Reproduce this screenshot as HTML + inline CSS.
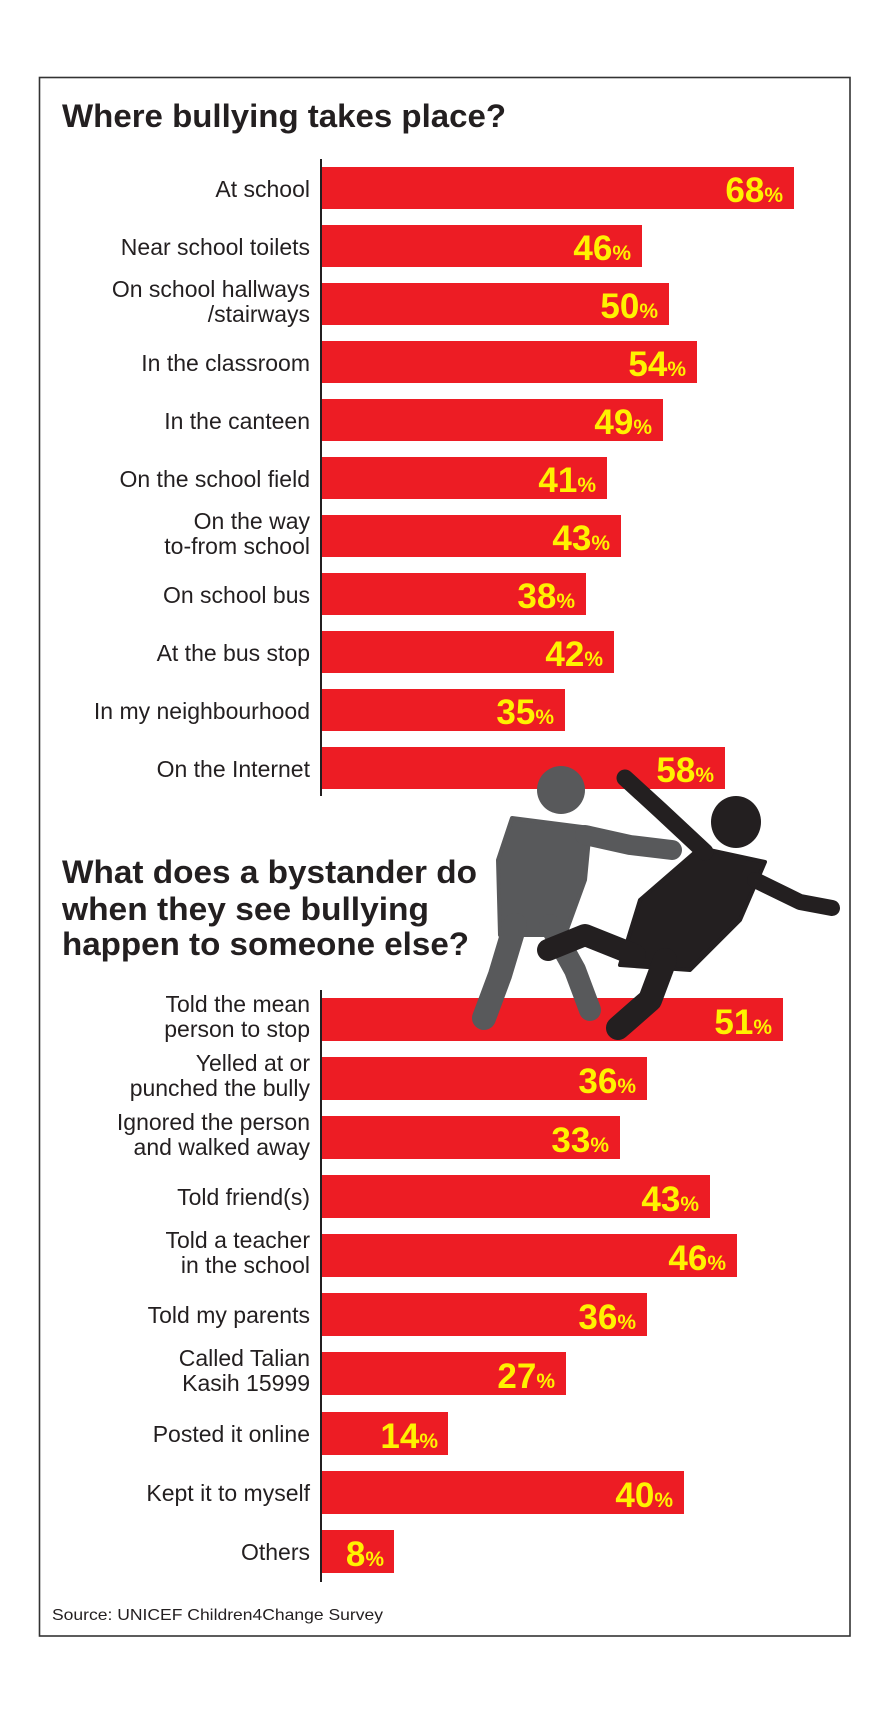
<!DOCTYPE html>
<html><head><meta charset="utf-8"><style>
html,body{margin:0;padding:0;background:#fff;}
svg{display:block;}
text{font-family:"Liberation Sans",sans-serif;}
.lb{font-size:23px;fill:#231F20;text-anchor:end;}
.v{font-size:35px;font-weight:bold;fill:#FFF200;}
.p{font-size:21px;font-weight:bold;fill:#FFF200;}
.h{font-size:32px;font-weight:bold;fill:#231F20;}
</style></head><body>
<svg width="881" height="1719" viewBox="0 0 881 1719" xmlns="http://www.w3.org/2000/svg">
<rect x="0" y="0" width="881" height="1719" fill="#fff"/>
<rect x="39.5" y="77.5" width="810.5" height="1558.5" fill="none" stroke="#333" stroke-width="1.6"/>
<text class="h" x="62" y="127" textLength="444" lengthAdjust="spacingAndGlyphs">Where bullying takes place?</text>
<line x1="321" y1="159" x2="321" y2="796" stroke="#231F20" stroke-width="2"/>
<text class="h" x="62" y="883" textLength="415" lengthAdjust="spacingAndGlyphs">What does a bystander do</text>
<text class="h" x="62" y="920" textLength="367" lengthAdjust="spacingAndGlyphs">when they see bullying</text>
<text class="h" x="62" y="955" textLength="407" lengthAdjust="spacingAndGlyphs">happen to someone else?</text>
<line x1="321" y1="990" x2="321" y2="1582" stroke="#231F20" stroke-width="2"/>
<!-- section 1 bars -->
<g fill="#ED1C24">
<rect x="322" y="167" width="472" height="42"/>
<rect x="322" y="225" width="320" height="42"/>
<rect x="322" y="283" width="347" height="42"/>
<rect x="322" y="341" width="375" height="42"/>
<rect x="322" y="399" width="341" height="42"/>
<rect x="322" y="457" width="285" height="42"/>
<rect x="322" y="515" width="299" height="42"/>
<rect x="322" y="573" width="264" height="42"/>
<rect x="322" y="631" width="292" height="42"/>
<rect x="322" y="689" width="243" height="42"/>
<rect x="322" y="747" width="403" height="42"/>
</g>
<g>
<text class="lb" x="310" y="197">At school</text>
<text class="lb" x="310" y="255">Near school toilets</text>
<text class="lb" x="310" y="297">On school hallways</text>
<text class="lb" x="310" y="322">/stairways</text>
<text class="lb" x="310" y="371">In the classroom</text>
<text class="lb" x="310" y="429">In the canteen</text>
<text class="lb" x="310" y="487">On the school field</text>
<text class="lb" x="310" y="529">On the way</text>
<text class="lb" x="310" y="554">to-from school</text>
<text class="lb" x="310" y="603">On school bus</text>
<text class="lb" x="310" y="661">At the bus stop</text>
<text class="lb" x="310" y="719">In my neighbourhood</text>
<text class="lb" x="310" y="777">On the Internet</text>
</g>
<!-- section 2 bars -->
<g fill="#ED1C24">
<rect x="322" y="998" width="461" height="43"/>
<rect x="322" y="1057" width="325" height="43"/>
<rect x="322" y="1116" width="298" height="43"/>
<rect x="322" y="1175" width="388" height="43"/>
<rect x="322" y="1234" width="415" height="43"/>
<rect x="322" y="1293" width="325" height="43"/>
<rect x="322" y="1352" width="244" height="43"/>
<rect x="322" y="1412" width="126" height="43"/>
<rect x="322" y="1471" width="362" height="43"/>
<rect x="322" y="1530" width="72" height="43"/>
</g>
<!-- silhouettes -->
<g fill="#58595B" stroke="#58595B" stroke-linecap="round" stroke-linejoin="round">
<ellipse cx="561" cy="790" rx="24" ry="24" stroke="none"/>
<polygon points="512,818 590,828 585,880 565,935 500,935 498,860" stroke-width="4"/>
<polyline points="585,835 630,845 672,850" fill="none" stroke-width="20"/>
<polyline points="515,925 500,975 484,1018" fill="none" stroke-width="24"/>
<polyline points="550,925 575,970 590,1010" fill="none" stroke-width="22"/>
</g>
<g fill="#231F20" stroke="#231F20" stroke-linecap="round" stroke-linejoin="round">
<ellipse cx="736" cy="822" rx="25" ry="26" stroke="none"/>
<polygon points="700,848 765,862 740,920 690,970 620,965 640,900" stroke-width="4"/>
<polyline points="705,852 660,810 625,778" fill="none" stroke-width="17"/>
<polyline points="755,880 800,902 832,908" fill="none" stroke-width="16"/>
<polyline points="635,955 585,935 548,950" fill="none" stroke-width="22"/>
<polyline points="665,960 650,1000 618,1028" fill="none" stroke-width="24"/>
</g>
<!-- section 1 values -->
<g>
<text x="783" y="202" text-anchor="end"><tspan class="v">68</tspan><tspan class="p">%</tspan></text>
<text x="631" y="260" text-anchor="end"><tspan class="v">46</tspan><tspan class="p">%</tspan></text>
<text x="658" y="318" text-anchor="end"><tspan class="v">50</tspan><tspan class="p">%</tspan></text>
<text x="686" y="376" text-anchor="end"><tspan class="v">54</tspan><tspan class="p">%</tspan></text>
<text x="652" y="434" text-anchor="end"><tspan class="v">49</tspan><tspan class="p">%</tspan></text>
<text x="596" y="492" text-anchor="end"><tspan class="v">41</tspan><tspan class="p">%</tspan></text>
<text x="610" y="550" text-anchor="end"><tspan class="v">43</tspan><tspan class="p">%</tspan></text>
<text x="575" y="608" text-anchor="end"><tspan class="v">38</tspan><tspan class="p">%</tspan></text>
<text x="603" y="666" text-anchor="end"><tspan class="v">42</tspan><tspan class="p">%</tspan></text>
<text x="554" y="724" text-anchor="end"><tspan class="v">35</tspan><tspan class="p">%</tspan></text>
<text x="714" y="782" text-anchor="end"><tspan class="v">58</tspan><tspan class="p">%</tspan></text>
</g>
<g>
<text class="lb" x="310" y="1012">Told the mean</text>
<text class="lb" x="310" y="1037">person to stop</text>
<text class="lb" x="310" y="1071">Yelled at or</text>
<text class="lb" x="310" y="1096">punched the bully</text>
<text class="lb" x="310" y="1130">Ignored the person</text>
<text class="lb" x="310" y="1155">and walked away</text>
<text class="lb" x="310" y="1205">Told friend(s)</text>
<text class="lb" x="310" y="1248">Told a teacher</text>
<text class="lb" x="310" y="1273">in the school</text>
<text class="lb" x="310" y="1323">Told my parents</text>
<text class="lb" x="310" y="1366">Called Talian</text>
<text class="lb" x="310" y="1391">Kasih 15999</text>
<text class="lb" x="310" y="1442">Posted it online</text>
<text class="lb" x="310" y="1501">Kept it to myself</text>
<text class="lb" x="310" y="1560">Others</text>
</g>
<g>
<text x="772" y="1034" text-anchor="end"><tspan class="v">51</tspan><tspan class="p">%</tspan></text>
<text x="636" y="1093" text-anchor="end"><tspan class="v">36</tspan><tspan class="p">%</tspan></text>
<text x="609" y="1152" text-anchor="end"><tspan class="v">33</tspan><tspan class="p">%</tspan></text>
<text x="699" y="1211" text-anchor="end"><tspan class="v">43</tspan><tspan class="p">%</tspan></text>
<text x="726" y="1270" text-anchor="end"><tspan class="v">46</tspan><tspan class="p">%</tspan></text>
<text x="636" y="1329" text-anchor="end"><tspan class="v">36</tspan><tspan class="p">%</tspan></text>
<text x="555" y="1388" text-anchor="end"><tspan class="v">27</tspan><tspan class="p">%</tspan></text>
<text x="438" y="1448" text-anchor="end"><tspan class="v">14</tspan><tspan class="p">%</tspan></text>
<text x="673" y="1507" text-anchor="end"><tspan class="v">40</tspan><tspan class="p">%</tspan></text>
<text x="384" y="1566" text-anchor="end"><tspan class="v">8</tspan><tspan class="p">%</tspan></text>
</g>
<text x="52" y="1620" font-size="16" fill="#231F20" textLength="331" lengthAdjust="spacingAndGlyphs">Source: UNICEF Children4Change Survey</text>
</svg>
</body></html>
